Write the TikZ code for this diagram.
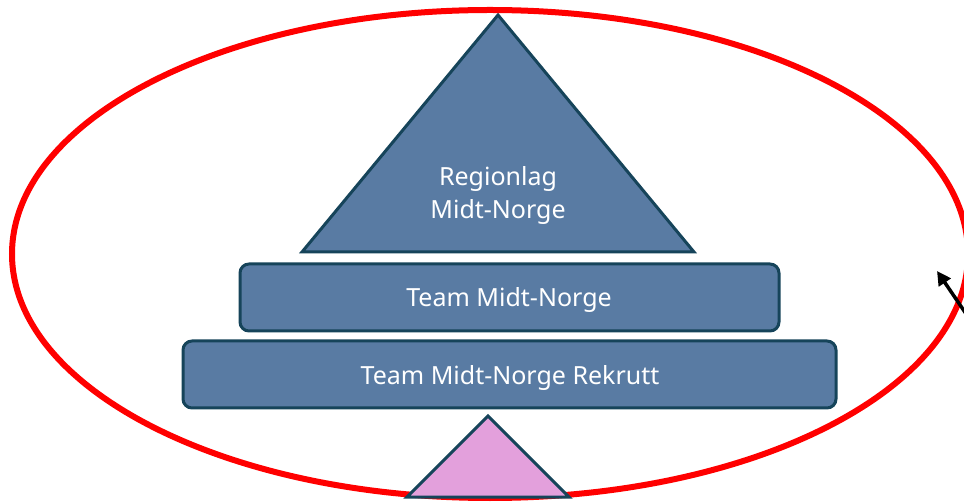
\documentclass[tikz,border=0pt]{standalone}
\usepackage{fontspec}
\setmainfont{Noto Sans}
\usetikzlibrary{arrows.meta}
\definecolor{boxfill}{RGB}{89,123,163}
\definecolor{boxline}{RGB}{22,68,90}
\definecolor{pinkfill}{RGB}{227,160,220}
\tikzset{
  tri/.style={draw=boxline, line width=3pt, fill=boxfill, line join=miter},
  bar/.style={draw=boxline, line width=3pt, fill=boxfill, rounded corners=9pt},
  lbl/.style={text=white, font=\fontsize{25}{33}\selectfont, align=center, inner sep=0pt},
  ring/.style={draw=red, line width=6pt},
}
\begin{document}
\begin{tikzpicture}[x=1pt,y=-1pt]
\useasboundingbox (0,0) rectangle (964,502);
\clip (0,0) rectangle (964,502);
\fill[white] (0,0) rectangle (964,502);
% pyramid top
\draw[tri] (498,15) -- (694,252) -- (302,252) -- cycle;
\node[lbl] (top) at (498,196) {Regionlag\\Midt-Norge};
% bars
\draw[bar] (240,264) rectangle (779,331);
\node[lbl] (team) at (509,300) {Team Midt-Norge};
\draw[bar] (183,341) rectangle (836,408);
\node[lbl] (rekrutt) at (510,378) {Team Midt-Norge Rekrutt};
% ellipse
\draw[ring] (490,254) ellipse [x radius=478, y radius=244];
% pink triangle
\draw[tri, fill=pinkfill] (488,416) -- (569,497) -- (407,497) -- cycle;
% arrow
\coordinate (astart) at (975,327);
\coordinate (aend) at (937,271);
\draw[line width=3.5pt, -{Triangle[length=14pt,width=14pt]}] (astart) -- (aend);
\end{tikzpicture}
\end{document}
